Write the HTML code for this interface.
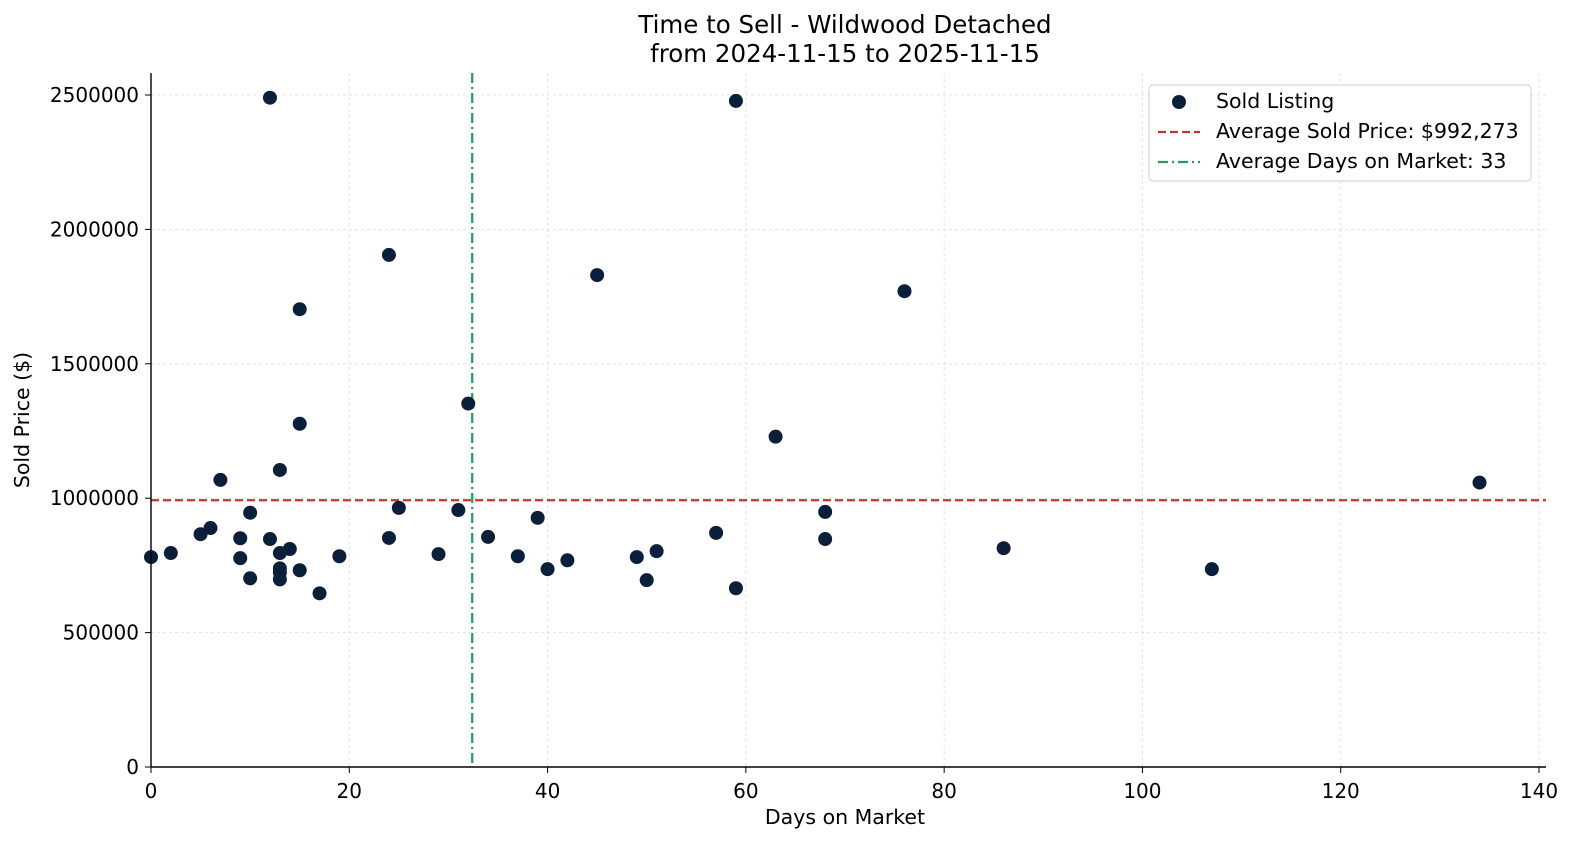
<!DOCTYPE html>
<html><head><meta charset="utf-8"><style>
html,body{margin:0;padding:0;background:#fff;}
svg{display:block;font-family:"DejaVu Sans","Liberation Sans",sans-serif;}
</style></head><body>
<svg id="chart" width="1573" height="845">
<text x="845" y="33" text-anchor="middle" font-size="24.5">Time to Sell - Wildwood Detached</text>
<text x="845" y="62" text-anchor="middle" font-size="24.5">from 2024-11-15 to 2025-11-15</text>
<g id="grid"></g><g id="ticks"></g><g id="refs"></g><g id="points"></g>
<line x1="151" y1="73" x2="151" y2="767" stroke="#000" stroke-width="1.4"/>
<line x1="151" y1="767" x2="1546" y2="767" stroke="#000" stroke-width="1.4"/>
<text x="845" y="824" text-anchor="middle" font-size="20.5">Days on Market</text>
<text x="29" y="420" text-anchor="middle" font-size="20.5" transform="rotate(-90 29 420)">Sold Price ($)</text>
<g>
<rect x="1149" y="85" width="382" height="96" rx="4" fill="#fff" stroke="#ccc"/>
<circle cx="1179" cy="102" r="7" fill="#0b1f3a"/>
<text x="1216" y="108" font-size="20.5">Sold Listing</text>
<line x1="1158" y1="132" x2="1200" y2="132" stroke="#c0392b" stroke-width="2.2" stroke-dasharray="8,4"/>
<text x="1216" y="138" font-size="20.5">Average Sold Price: $992,273</text>
<line x1="1158" y1="162" x2="1200" y2="162" stroke="#1e9e5a" stroke-width="2.2" stroke-dasharray="10,4,2,4"/>
<text x="1216" y="168" font-size="20.5">Average Days on Market: 33</text>
</g>
</svg>
<script>
const days=[0,2,5,6,7,9,9,10,10,12,12,13,13,13,13,13,14,15,15,15,17,19,24,24,25,29,31,32,34,37,39,40,42,45,49,50,51,57,59,59,63,68,68,76,86,107,134];
const prices=[781000,796000,866000,889000,1068000,851000,777000,946000,702000,2490000,848000,1105000,796000,739000,724000,698000,811000,1703000,1277000,732000,646000,784000,1905000,852000,964000,792000,956000,1352000,856000,784000,927000,736000,769000,1830000,781000,695000,803000,871000,2478000,665000,1229000,949000,848000,1770000,814000,736000,1058000];
const xTicks=[0,20,40,60,80,100,120,140];
const yTicks=[0,500000,1000000,1500000,2000000,2500000];
const avgPrice=992273;
const avgDays=32.4;
const NS="http://www.w3.org/2000/svg";
function xs(v){return 151+v*(1388/140);}
function ys(v){return 767-v*(672/2500000);}
function mk(t,a,p){const e=document.createElementNS(NS,t);for(const k in a)e.setAttribute(k,a[k]);document.getElementById(p).appendChild(e);return e;}
xTicks.forEach(t=>{
 let g=mk('line',{x1:xs(t),x2:xs(t),y1:73,y2:767,stroke:'#ddd','stroke-dasharray':'3,3','stroke-width':0.8},'grid');
 
 
 let k=mk('line',{x1:xs(t),x2:xs(t),y1:767,y2:773,stroke:'#000'},'ticks');
 
 
 let l=mk('text',{x:xs(t),y:798,'text-anchor':'middle','font-size':20},'ticks');l.textContent=t;
 
 
});
yTicks.forEach(t=>{
 let g=mk('line',{x1:151,x2:1546,y1:ys(t),y2:ys(t),stroke:'#ddd','stroke-dasharray':'3,3','stroke-width':0.8},'grid');
 
 
 let k=mk('line',{x1:145,x2:151,y1:ys(t),y2:ys(t),stroke:'#000'},'ticks');
 
 
 let l=mk('text',{x:139,y:ys(t)+7,'text-anchor':'end','font-size':20},'ticks');l.textContent=t;
 
 
});
let hp=mk('line',{x1:151,x2:1546,y1:ys(avgPrice),y2:ys(avgPrice),stroke:'#c0392b','stroke-width':2.2,'stroke-dasharray':'8,4'},'refs');


let vd=mk('line',{x1:xs(avgDays),x2:xs(avgDays),y1:73,y2:767,stroke:'#1e9e5a','stroke-width':2.2,'stroke-dasharray':'10,4,2,4'},'refs');


days.forEach((d,i)=>{
 let c=mk('circle',{cx:xs(d),cy:ys(prices[i]),r:7,fill:'#0b1f3a'},'points');
 
 
});
</script>
</body></html>
